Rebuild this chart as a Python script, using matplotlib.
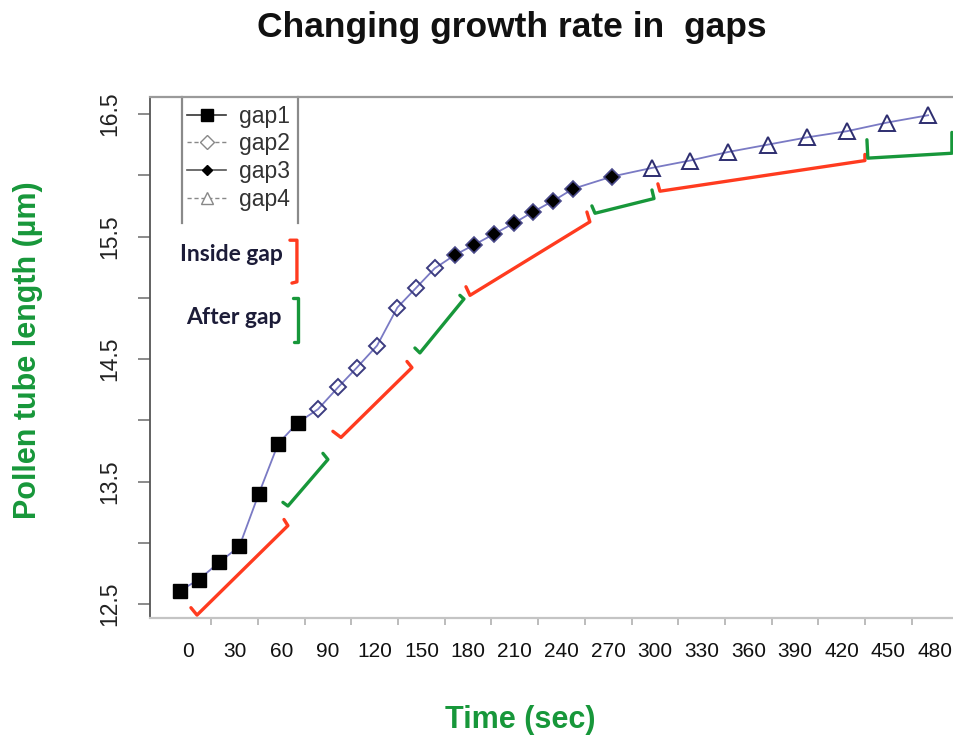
import numpy as np
import matplotlib
matplotlib.use("Agg")
import matplotlib.pyplot as plt
from matplotlib.lines import Line2D

# time (sec) and pollen tube length (um), one array per gap
gap1_t = [-5.0, 7.0, 20.0, 33.0, 45.5, 58.0, 70.5]
gap1_len = [12.61, 12.70, 12.84, 12.97, 13.40, 13.81, 13.98]
gap2_t = [83.5, 96.5, 108.5, 121.5, 134.5, 146.5, 158.5]
gap2_len = [14.09, 14.27, 14.43, 14.61, 14.92, 15.08, 15.24]
gap3_t = [171.5, 183.5, 196.5, 209.5, 221.5, 234.5, 247.5, 272.5]
gap3_len = [15.35, 15.43, 15.52, 15.61, 15.70, 15.79, 15.89, 15.99]
gap4_t = [298.0, 322.5, 347.0, 372.5, 398.0, 423.5, 449.0, 475.5]
gap4_len = [16.06, 16.12, 16.19, 16.25, 16.31, 16.36, 16.43, 16.49]

xtick_labels = [str(v) for v in range(0, 481, 30)]
ytick_labels = ["12.5", "", "13.5", "", "14.5", "", "15.5", "", "16.5"]

# hand drawn brackets: (colour, x points, y points)
RED = "#ff3b1f"
GREEN = "#17973a"
brackets = [
    (RED, [1.9, 5.8, 64.2, 61.7], [12.47, 12.41, 13.14, 13.19]),
    (GREEN, [61.0, 64.2, 89.9, 86.7], [13.33, 13.30, 13.68, 13.73]),
    (RED, [93.1, 98.3, 143.9, 140.7], [13.91, 13.86, 14.43, 14.48]),
    (GREEN, [145.8, 149.0, 177.3, 174.7], [14.59, 14.55, 14.99, 15.02]),
    (RED, [178.6, 181.2, 258.2, 256.3], [15.09, 15.02, 15.62, 15.70]),
    (GREEN, [259.5, 261.5, 299.4, 298.1], [15.75, 15.69, 15.81, 15.88]),
    (RED, [301.9, 303.2, 434.9, 434.9], [15.93, 15.87, 16.12, 16.17]),
    (GREEN, [436.2, 436.8, 490.8, 490.8], [16.29, 16.14, 16.18, 16.35]),
    # key brackets next to the labels
    (RED, [65.5, 70.0, 70.0, 66.8], [15.47, 15.47, 15.13, 15.12]),
    (GREEN, [67.5, 70.7, 70.7, 68.1], [15.00, 15.00, 14.64, 14.64]),
]

fig = plt.figure(figsize=(9.54, 7.41), dpi=100)
ax = fig.add_axes([150 / 954, 123 / 741, 810 / 954, 521 / 741])

all_t = gap1_t + gap2_t + gap3_t + gap4_t
all_len = gap1_len + gap2_len + gap3_len + gap4_len
ax.plot(all_t, all_len, color="#7a7ac4", lw=1.3, zorder=2)

ax.plot(gap1_t, gap1_len, ls="none", marker="s", ms=10, color="black", zorder=3)
ax.plot(gap2_t, gap2_len, ls="none", marker="D", ms=8.5, mfc="none", mec="#3c3c80", mew=1.4, zorder=3)
ax.plot(gap3_t, gap3_len, ls="none", marker="D", ms=8, color="black", mec="#4a4a8a", mew=1.2, zorder=3)
ax.plot(gap4_t, gap4_len, ls="none", marker="^", ms=11, mfc="none", mec="#2e2e70", mew=1.4, zorder=3)

for col, bx, by in brackets:
    ax.plot(bx, by, color=col, lw=2.4, solid_capstyle="round", solid_joinstyle="round",
            clip_on=False, zorder=4)

ax.set_xlim(-24.4, 496)
ax.set_ylim(12.386, 16.639)

# tick marks sit between the labels in the original
ax.set_xticks(np.arange(15, 466, 30))
ax.set_xticklabels([])
ax.set_xticks(np.arange(0, 481, 30), minor=True)
ax.set_xticklabels(xtick_labels, minor=True, family="Liberation Sans",
                   fontsize=15, color="#111111")
ax.tick_params(axis="x", which="major", length=5, width=1.2, color="#b0b0b0", direction="out")
ax.tick_params(axis="x", which="minor", length=0, pad=17)

ax.set_yticks(np.arange(12.5, 16.51, 0.5))
ax.set_yticklabels(ytick_labels, rotation=90, va="center", family="Liberation Sans",
                   fontsize=16.5, color="#222222")
ax.tick_params(axis="y", length=9, width=1.2, color="#777777", pad=12)

ax.spines["right"].set_visible(False)
ax.spines["top"].set_color("#9a9a9a")
ax.spines["top"].set_linewidth(1.6)
ax.spines["left"].set_color("#555555")
ax.spines["left"].set_linewidth(1.3)
ax.spines["bottom"].set_color("#c4c4c4")
ax.spines["bottom"].set_linewidth(1.6)

# legend
handles = [
    Line2D([], [], color="#333333", lw=1.2, marker="s", ms=8, mfc="black", mec="black"),
    Line2D([], [], color="#888888", lw=1.0, ls=(0, (3, 2)), marker="D", ms=7, mfc="white", mec="#888888"),
    Line2D([], [], color="#555555", lw=1.2, marker="D", ms=5, mfc="black", mec="black"),
    Line2D([], [], color="#888888", lw=1.0, ls=(0, (3, 2)), marker="^", ms=8, mfc="white", mec="#888888"),
]
leg = ax.legend(handles, ["gap1", "gap2", "gap3", "gap4"], loc="upper left",
                bbox_to_anchor=(0.046, 0.985), frameon=False, borderpad=0, borderaxespad=0,
                handlelength=1.7, handletextpad=0.55, labelspacing=0.2,
                prop={"family": "Liberation Sans", "size": 16.5})
for t in leg.get_texts():
    t.set_color("#333333")
for xf in (32 / 810, 148 / 810):
    ax.plot([xf, xf], [1.0, 0.758], transform=ax.transAxes, color="#8a8a8a", lw=1.6, clip_on=False)

ax.text(0.10, 0.697, "Inside gap", transform=ax.transAxes, ha="center", va="center",
        family="Lato", fontweight="bold", fontsize=16.5, color="#1c1c38")
ax.text(0.103, 0.576, "After gap", transform=ax.transAxes, ha="center", va="center",
        family="Lato", fontweight="bold", fontsize=16.5, color="#1c1c38")

fig.text(0.537, 0.963, "Changing growth rate in  gaps", ha="center", va="center",
         family="Liberation Sans", fontweight="bold", fontsize=25.5, color="#111111")
fig.text(0.545, 0.028, "Time (sec)", ha="center", va="center",
         family="Liberation Sans", fontweight="bold", fontsize=22, color=GREEN)
fig.text(0.029, 0.528, "Pollen tube length (\u00b5m)", ha="center", va="center", rotation=90,
         family="Liberation Sans", fontweight="bold", fontsize=22, color=GREEN)

fig.savefig("out.png", dpi=100)
